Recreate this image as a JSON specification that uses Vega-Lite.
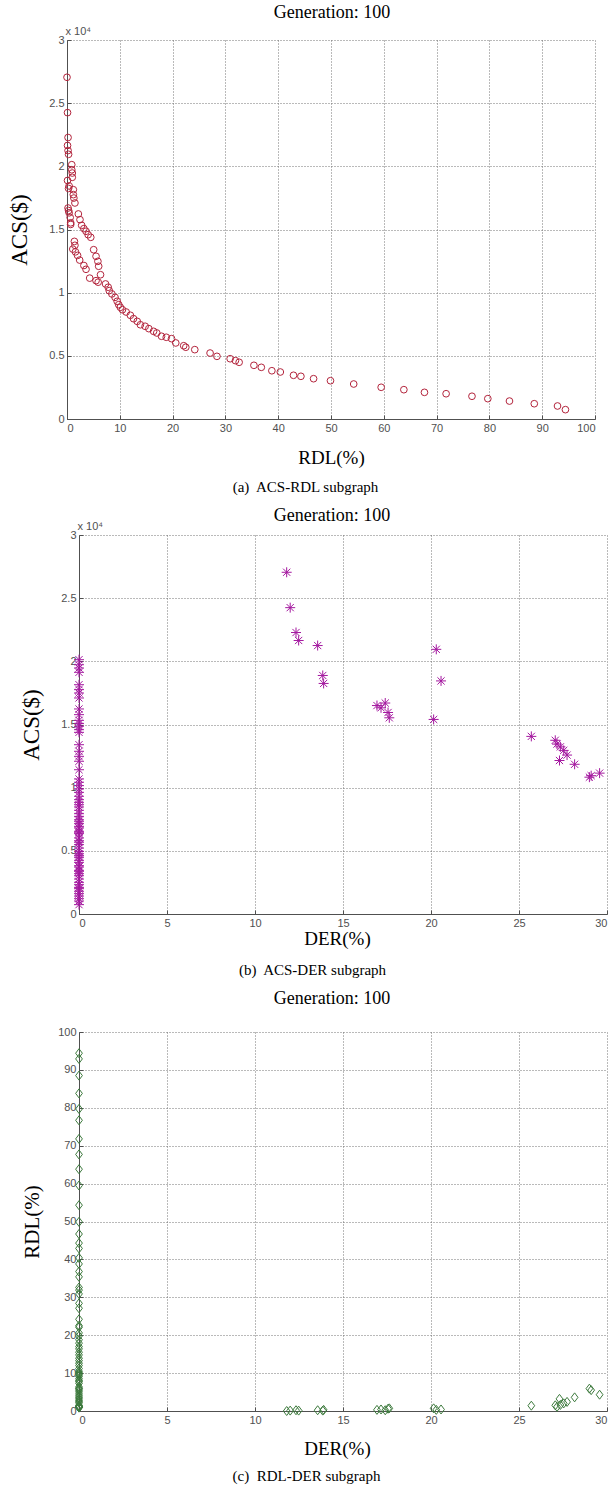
{
  "$schema": "https://vega.github.io/schema/vega-lite/v6.json",
  "background": "white",
  "padding": {"top": 4, "left": 8, "right": 0, "bottom": 4},
  "spacing": 13,
  "config": {
    "view": {"stroke": null},
    "axis": {
      "labelFont": "Liberation Sans", "labelFontSize": 11, "labelColor": "#505050",
      "titleFont": "Liberation Serif", "titleFontWeight": "normal", "titleColor": "#000000",
      "domainColor": "#505050", "tickColor": "#505050", "tickSize": -4, "labelPadding": 7,
      "gridColor": "#666666", "gridDash": [1, 2], "gridOpacity": 0.9, "gridWidth": 1
    },
    "title": {"font": "Liberation Serif", "fontSize": 18, "fontWeight": "normal", "color": "#000000", "frame": "group", "anchor": "middle"}
  },
  "datasets": {
    "sol": [
      {"RDL": 0.0, "DER": 11.8, "ACS": 27050},
      {"RDL": 0.1, "DER": 12.0, "ACS": 24250},
      {"RDL": 0.2, "DER": 12.33, "ACS": 22280},
      {"RDL": 0.1, "DER": 12.48, "ACS": 21650},
      {"RDL": 0.2, "DER": 13.56, "ACS": 21250},
      {"RDL": 0.3, "DER": 20.3, "ACS": 20950},
      {"RDL": 0.1, "DER": 13.85, "ACS": 18880},
      {"RDL": 0.4, "DER": 20.57, "ACS": 18450},
      {"RDL": 0.3, "DER": 13.9, "ACS": 18250},
      {"RDL": 0.2, "DER": 17.4, "ACS": 16700},
      {"RDL": 0.3, "DER": 16.93, "ACS": 16500},
      {"RDL": 0.4, "DER": 17.16, "ACS": 16320},
      {"RDL": 0.6, "DER": 17.56, "ACS": 15950},
      {"RDL": 0.7, "DER": 17.63, "ACS": 15530},
      {"RDL": 0.7, "DER": 20.15, "ACS": 15400},
      {"RDL": 1.4, "DER": 25.7, "ACS": 14060},
      {"RDL": 1.5, "DER": 27.06, "ACS": 13750},
      {"RDL": 1.1, "DER": 27.16, "ACS": 13450},
      {"RDL": 1.6, "DER": 27.35, "ACS": 13230},
      {"RDL": 2.0, "DER": 27.54, "ACS": 12950},
      {"RDL": 2.4, "DER": 27.73, "ACS": 12580},
      {"RDL": 3.2, "DER": 27.3, "ACS": 12150},
      {"RDL": 3.6, "DER": 28.16, "ACS": 11850},
      {"RDL": 4.3, "DER": 29.58, "ACS": 11150},
      {"RDL": 5.5, "DER": 29.1, "ACS": 10950},
      {"RDL": 5.9, "DER": 29.0, "ACS": 10830},
      {"RDL": 0.9, "DER": 0, "ACS": 20130},
      {"RDL": 0.9, "DER": 0, "ACS": 19730},
      {"RDL": 1.0, "DER": 0, "ACS": 19470},
      {"RDL": 1.0, "DER": 0, "ACS": 19130},
      {"RDL": 1.2, "DER": 0, "ACS": 18150},
      {"RDL": 1.2, "DER": 0, "ACS": 17760},
      {"RDL": 1.3, "DER": 0, "ACS": 17490},
      {"RDL": 1.5, "DER": 0, "ACS": 17100},
      {"RDL": 2.15, "DER": 0, "ACS": 16230},
      {"RDL": 2.46, "DER": 0, "ACS": 15780},
      {"RDL": 2.78, "DER": 0, "ACS": 15330},
      {"RDL": 3.2, "DER": 0, "ACS": 15070},
      {"RDL": 3.6, "DER": 0, "ACS": 14860},
      {"RDL": 4.0, "DER": 0, "ACS": 14590},
      {"RDL": 4.5, "DER": 0, "ACS": 14380},
      {"RDL": 5.05, "DER": 0, "ACS": 13400},
      {"RDL": 5.5, "DER": 0, "ACS": 12880},
      {"RDL": 5.85, "DER": 0, "ACS": 12480},
      {"RDL": 6.0, "DER": 0, "ACS": 12090},
      {"RDL": 6.35, "DER": 0, "ACS": 11420},
      {"RDL": 7.3, "DER": 0, "ACS": 10690},
      {"RDL": 7.8, "DER": 0, "ACS": 10430},
      {"RDL": 8.0, "DER": 0, "ACS": 10160},
      {"RDL": 8.5, "DER": 0, "ACS": 9900},
      {"RDL": 9.1, "DER": 0, "ACS": 9630},
      {"RDL": 9.5, "DER": 0, "ACS": 9320},
      {"RDL": 9.8, "DER": 0, "ACS": 9050},
      {"RDL": 10.1, "DER": 0, "ACS": 8840},
      {"RDL": 10.5, "DER": 0, "ACS": 8650},
      {"RDL": 11.2, "DER": 0, "ACS": 8470},
      {"RDL": 12.0, "DER": 0, "ACS": 8210},
      {"RDL": 12.6, "DER": 0, "ACS": 7940},
      {"RDL": 13.3, "DER": 0, "ACS": 7730},
      {"RDL": 13.9, "DER": 0, "ACS": 7460},
      {"RDL": 14.8, "DER": 0, "ACS": 7340},
      {"RDL": 15.5, "DER": 0, "ACS": 7150},
      {"RDL": 16.4, "DER": 0, "ACS": 6940},
      {"RDL": 17.0, "DER": 0, "ACS": 6810},
      {"RDL": 17.9, "DER": 0, "ACS": 6550},
      {"RDL": 18.8, "DER": 0, "ACS": 6470},
      {"RDL": 19.8, "DER": 0, "ACS": 6360},
      {"RDL": 20.6, "DER": 0, "ACS": 6020},
      {"RDL": 22.1, "DER": 0, "ACS": 5800},
      {"RDL": 22.5, "DER": 0, "ACS": 5680},
      {"RDL": 24.2, "DER": 0, "ACS": 5490},
      {"RDL": 27.1, "DER": 0, "ACS": 5220},
      {"RDL": 28.4, "DER": 0, "ACS": 4960},
      {"RDL": 30.9, "DER": 0, "ACS": 4770},
      {"RDL": 31.9, "DER": 0, "ACS": 4620},
      {"RDL": 32.6, "DER": 0, "ACS": 4490},
      {"RDL": 35.4, "DER": 0, "ACS": 4250},
      {"RDL": 36.8, "DER": 0, "ACS": 4090},
      {"RDL": 38.8, "DER": 0, "ACS": 3820},
      {"RDL": 40.4, "DER": 0, "ACS": 3720},
      {"RDL": 42.9, "DER": 0, "ACS": 3460},
      {"RDL": 44.3, "DER": 0, "ACS": 3380},
      {"RDL": 46.7, "DER": 0, "ACS": 3190},
      {"RDL": 49.9, "DER": 0, "ACS": 3030},
      {"RDL": 54.3, "DER": 0, "ACS": 2770},
      {"RDL": 59.5, "DER": 0, "ACS": 2510},
      {"RDL": 63.8, "DER": 0, "ACS": 2320},
      {"RDL": 67.7, "DER": 0, "ACS": 2110},
      {"RDL": 71.8, "DER": 0, "ACS": 2000},
      {"RDL": 76.7, "DER": 0, "ACS": 1800},
      {"RDL": 79.7, "DER": 0, "ACS": 1610},
      {"RDL": 83.8, "DER": 0, "ACS": 1420},
      {"RDL": 88.5, "DER": 0, "ACS": 1210},
      {"RDL": 92.9, "DER": 0, "ACS": 1030},
      {"RDL": 94.4, "DER": 0, "ACS": 740}
    ]
  },
  "vconcat": [
    {
      "data": {"name": "sol"},
      "width": 528, "height": 379,
      "title": {"text": "Generation: 100", "offset": 3, "dx": -11},
      "layer": [
        {
          "mark": {"type": "point", "shape": "circle", "filled": false, "size": 45, "strokeWidth": 1, "color": "#b3243c", "opacity": 1},
          "encoding": {
            "x": {"field": "RDL", "type": "quantitative",
              "scale": {"domain": [0, 100], "range": [-12, 516], "nice": false, "zero": false},
              "axis": {"orient": "bottom", "title": "RDL(%)", "values": [0, 10, 20, 30, 40, 50, 60, 70, 80, 90, 100], "titleFontSize": 19, "titlePadding": 15}},
            "y": {"field": "ACS", "type": "quantitative",
              "scale": {"domain": [0, 30000], "nice": false, "zero": false},
              "axis": {"orient": "left", "offset": 12, "title": "ACS($)", "values": [0, 5000, 10000, 15000, 20000, 25000, 30000], "labelExpr": "datum.value / 10000", "titleFontSize": 23, "titlePadding": 17}}
          }
        },
        {
          "mark": {"type": "point", "opacity": 0},
          "encoding": {
            "x": {"field": "RDL", "type": "quantitative",
              "axis": {"orient": "bottom", "title": "(a)\u00a0 ACS-RDL subgraph", "titleX": 226, "titleFont": "Liberation Serif", "titleFontWeight": "normal", "titleColor": "#000000", "labels": false, "ticks": false, "domain": false, "grid": false, "titleFontSize": 15, "titlePadding": 60}},
            "y": {"field": "ACS", "type": "quantitative",
              "axis": {"orient": "left", "offset": 12, "title": "x 10⁴", "titleAngle": 0, "titleX": -2, "titleY": -4, "titleAlign": "left", "titleBaseline": "bottom", "titleFont": "Liberation Sans", "titleFontWeight": "normal", "titleFontSize": 11, "titleColor": "#505050", "labels": false, "ticks": false, "domain": false, "grid": false}}
          }
        }
      ],
      "resolve": {"axis": {"x": "independent", "y": "independent"}}
    },
    {
      "data": {"name": "sol"},
      "width": 528, "height": 379,
      "title": {"text": "Generation: 100", "offset": -5, "dx": -11},
      "layer": [
        {
          "mark": {"type": "point", "shape": "M-1,0L1,0M0,-1L0,1M-0.72,-0.72L0.72,0.72M-0.72,0.72L0.72,-0.72", "filled": false, "size": 100, "strokeWidth": 1, "color": "#a4189f", "opacity": 1},
          "encoding": {
            "x": {"field": "DER", "type": "quantitative",
              "scale": {"domain": [0, 30], "nice": false, "zero": false},
              "axis": {"orient": "bottom", "title": "DER(%)", "titleX": 258, "values": [0, 5, 10, 15, 20, 25, 30], "titleFontSize": 19, "titlePadding": 1}},
            "y": {"field": "ACS", "type": "quantitative",
              "scale": {"domain": [0, 30000], "nice": false, "zero": false},
              "axis": {"orient": "left", "title": "ACS($)", "values": [0, 5000, 10000, 15000, 20000, 25000, 30000], "labelExpr": "datum.value / 10000", "titleFontSize": 23, "titlePadding": 17}}
          }
        },
        {
          "mark": {"type": "point", "opacity": 0},
          "encoding": {
            "x": {"field": "DER", "type": "quantitative",
              "axis": {"orient": "bottom", "title": "(b)\u00a0 ACS-DER subgraph", "titleX": 233, "titleFont": "Liberation Serif", "titleFontWeight": "normal", "titleColor": "#000000", "labels": false, "ticks": false, "domain": false, "grid": false, "titleFontSize": 15, "titlePadding": 48}},
            "y": {"field": "ACS", "type": "quantitative",
              "axis": {"orient": "left", "title": "x 10⁴", "titleAngle": 0, "titleX": -2, "titleY": -4, "titleAlign": "left", "titleBaseline": "bottom", "titleFont": "Liberation Sans", "titleFontWeight": "normal", "titleFontSize": 11, "titleColor": "#505050", "labels": false, "ticks": false, "domain": false, "grid": false}}
          }
        }
      ],
      "resolve": {"axis": {"x": "independent", "y": "independent"}}
    },
    {
      "data": {"name": "sol"},
      "width": 528, "height": 379,
      "title": {"text": "Generation: 100", "offset": 18, "dx": -11},
      "layer": [
        {
          "mark": {"type": "point", "shape": "M0,-1L0.75,0L0,1L-0.75,0Z", "filled": false, "size": 81, "strokeWidth": 1, "color": "#3d7a3d", "opacity": 1},
          "encoding": {
            "x": {"field": "DER", "type": "quantitative",
              "scale": {"domain": [0, 30], "nice": false, "zero": false},
              "axis": {"orient": "bottom", "title": "DER(%)", "titleX": 258, "values": [0, 5, 10, 15, 20, 25, 30], "titleFontSize": 19, "titlePadding": 14}},
            "y": {"field": "RDL", "type": "quantitative",
              "scale": {"domain": [0, 100], "nice": false, "zero": false},
              "axis": {"orient": "left", "title": "RDL(%)", "values": [0, 10, 20, 30, 40, 50, 60, 70, 80, 90, 100], "titleFontSize": 21, "titlePadding": 15}}
          }
        },
        {
          "mark": {"type": "point", "opacity": 0},
          "encoding": {
            "x": {"field": "DER", "type": "quantitative",
              "axis": {"orient": "bottom", "title": "(c)\u00a0 RDL-DER subgraph", "titleX": 227, "titleFont": "Liberation Serif", "titleFontWeight": "normal", "titleColor": "#000000", "labels": false, "ticks": false, "domain": false, "grid": false, "titleFontSize": 15, "titlePadding": 57}}
          }
        }
      ],
      "resolve": {"axis": {"x": "independent"}}
    }
  ]
}
